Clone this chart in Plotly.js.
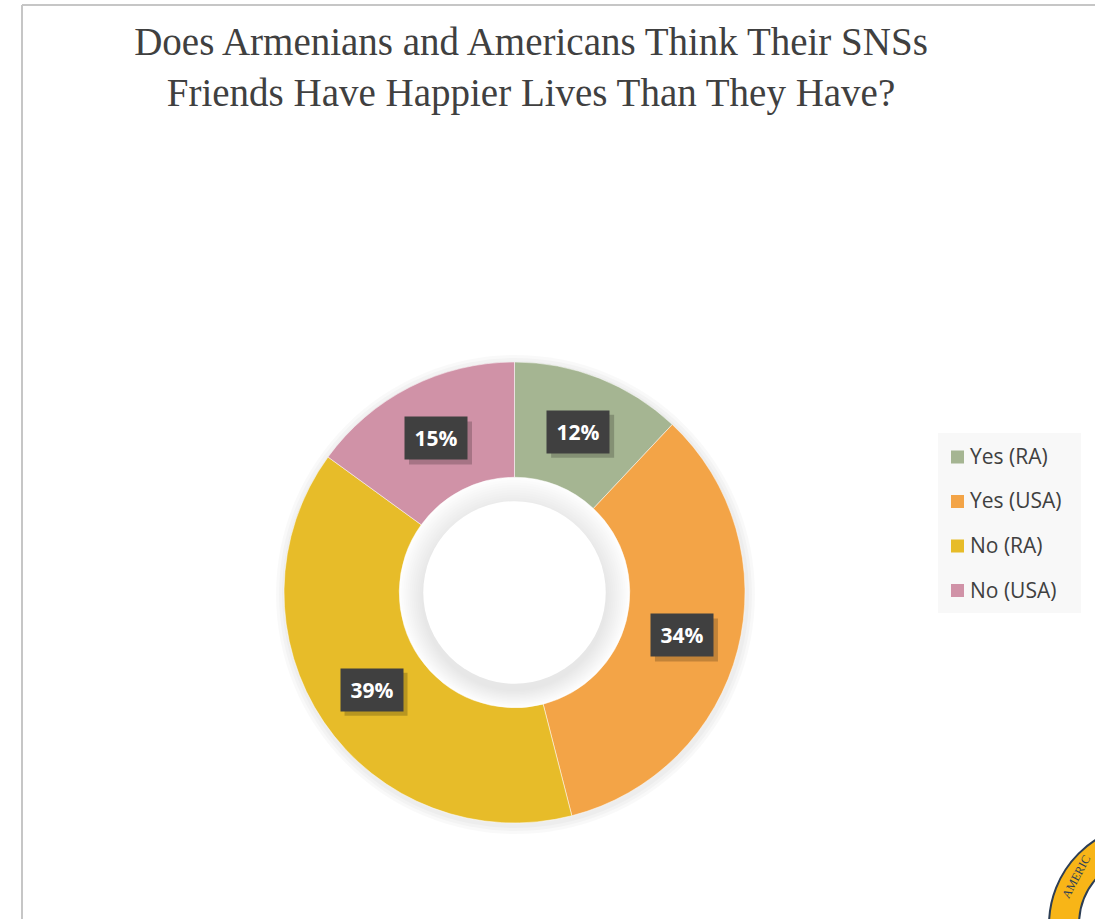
<!DOCTYPE html>
<html>
<head>
<meta charset="utf-8">
<script src="https://cdn.plot.ly/plotly-3.0.1.min.js"></script>
<style>html,body{margin:0;padding:0;background:#fff;}#chart{width:1095px;height:919px;}</style>
</head>
<body>
<div id="chart"></div>
<script>
// ---- data ----
const categories = ["Yes (RA)", "Yes (USA)", "No (RA)", "No (USA)"];
const values = [12, 34, 39, 15];
const sliceColors = ["#A5B592", "#F3A447", "#E7BC29", "#D092A7"];
const chartTitle = "Does Armenians and Americans Think Their SNSs<br>Friends Have Happier Lives Than They Have?";

// ---- layout geometry (pixels) ----
const W = 1095, H = 919;
const pieLeft = 284, pieRight = 745, pieTop = 362, pieBottom = 823;
const cx = (pieLeft + pieRight) / 2, cy = (pieTop + pieBottom) / 2;
const R = (pieRight - pieLeft) / 2;
const holeFrac = 0.5;
const rHole = R * holeFrac;
const rMid = R * (1 + holeFrac) / 2;
const px = x => x / W, py = y => 1 - y / H;

const total = values.reduce((a, b) => a + b, 0);

const annotations = [];
const shapes = [];

function circ(x, y, r, fill, layer, line) {
  return {type: "circle", layer: layer || "below", xref: "paper", yref: "paper",
    x0: px(x - r), x1: px(x + r), y0: py(y + r), y1: py(y - r),
    fillcolor: fill, line: line || {width: 0}};
}

// frame lines
shapes.push({type: "line", xref: "paper", yref: "paper", x0: px(22), x1: px(22), y0: py(5), y1: py(H + 5), line: {color: "#c6c6c6", width: 2}});
shapes.push({type: "line", xref: "paper", yref: "paper", x0: px(22), x1: px(W + 5), y0: py(5), y1: py(5), line: {color: "#c6c6c6", width: 2}});

// soft shadow halo behind donut
[9, 6, 3].forEach(d => shapes.push(circ(cx + 1, cy + 2, R + d, "rgba(0,0,0,0.022)")));
// white hole, with a soft inner shade near its rim
shapes.push(circ(cx, cy, rHole + 1, "#ffffff"));
for (let d = 0; d <= 22; d += 2) shapes.push(circ(cx, cy + d * 0.25, rHole - d, "rgba(0,0,0,0.008)"));
shapes.push(circ(cx, cy, rHole - 24, "#ffffff"));

// data labels (boxed) placed at slice mid-angles
const boxW = 62, boxH = 42;
let cum = 0;
values.forEach((v, i) => {
  const theta = 2 * Math.PI * (cum + v / 2) / total;
  cum += v;
  const x = cx + rMid * Math.sin(theta);
  const y = cy - rMid * Math.cos(theta);
  const txt = Math.round(v / total * 100) + "%";
  shapes.push({type: "rect", layer: "above", xref: "paper", yref: "paper",
    x0: px(x - boxW / 2 + 4), x1: px(x + boxW / 2 + 5), y0: py(y + boxH / 2 + 5), y1: py(y - boxH / 2 + 4),
    fillcolor: "rgba(0,0,0,0.2)", line: {width: 0}});
  annotations.push({xref: "paper", yref: "paper", x: px(x), y: py(y), xanchor: "center", yanchor: "middle", showarrow: false,
    text: "<b>" + txt + "</b>", font: {family: "Open Sans", size: 21, color: "#ffffff"},
    bgcolor: "#404040", borderpad: 8, width: boxW - 16, height: boxH - 16});
});

// legend panel built from categories/colors
const legX0 = 938, legX1 = 1081, legY0 = 433, legY1 = 613;
shapes.push({type: "rect", xref: "paper", yref: "paper", x0: px(legX0), x1: px(legX1), y0: py(legY1), y1: py(legY0),
  fillcolor: "#f8f8f8", line: {width: 0}});
const legStartY = 456, legStep = 44.5, mk = 13;
categories.forEach((c, i) => {
  const yy = legStartY + i * legStep;
  shapes.push({type: "rect", xref: "paper", yref: "paper", x0: px(951), x1: px(951 + mk), y0: py(yy + mk / 2 + 1), y1: py(yy - mk / 2 + 1),
    fillcolor: sliceColors[i], line: {width: 0}});
  annotations.push({xref: "paper", yref: "paper", x: px(968), y: py(yy), xanchor: "left", yanchor: "middle", showarrow: false,
    text: c, font: {family: "Open Sans", size: 21, color: "#404040"}});
});

// partial logo in the bottom-right corner
const lcx = 1150, lcy = 925;
shapes.push(circ(lcx, lcy, 101, "#F8B517", "above", {color: "#2c3e55", width: 2}));
shapes.push(circ(lcx, lcy, 71, "#ffffff", "above", {color: "#2c3e55", width: 2}));
annotations.push({xref: "paper", yref: "paper", x: px(1076), y: py(877), xanchor: "center", yanchor: "middle", showarrow: false, textangle: -62,
  text: "AMERIC", font: {family: "Liberation Serif", size: 12, color: "#2c3e55"}});

const trace = {
  type: "pie",
  labels: categories,
  values: values,
  hole: holeFrac,
  sort: false,
  direction: "clockwise",
  rotation: 0,
  textinfo: "none",
  hoverinfo: "label+percent",
  marker: {colors: sliceColors, line: {color: "#ffffff", width: 0.5}},
  domain: {x: [px(pieLeft), px(pieRight)], y: [py(pieBottom), py(pieTop)]},
  showlegend: false
};

const layout = {
  width: W, height: H,
  margin: {l: 0, r: 0, t: 0, b: 0},
  paper_bgcolor: "#ffffff",
  showlegend: false,
  title: {text: chartTitle, x: px(531), xanchor: "center", xref: "paper", y: 1 - 55 / H, yref: "container", yanchor: "top",
    font: {family: "Liberation Serif", size: 39, color: "#404040"}},
  shapes: shapes,
  annotations: annotations
};

Plotly.newPlot("chart", [trace], layout, {displayModeBar: false, staticPlot: true});
</script>
</body>
</html>
